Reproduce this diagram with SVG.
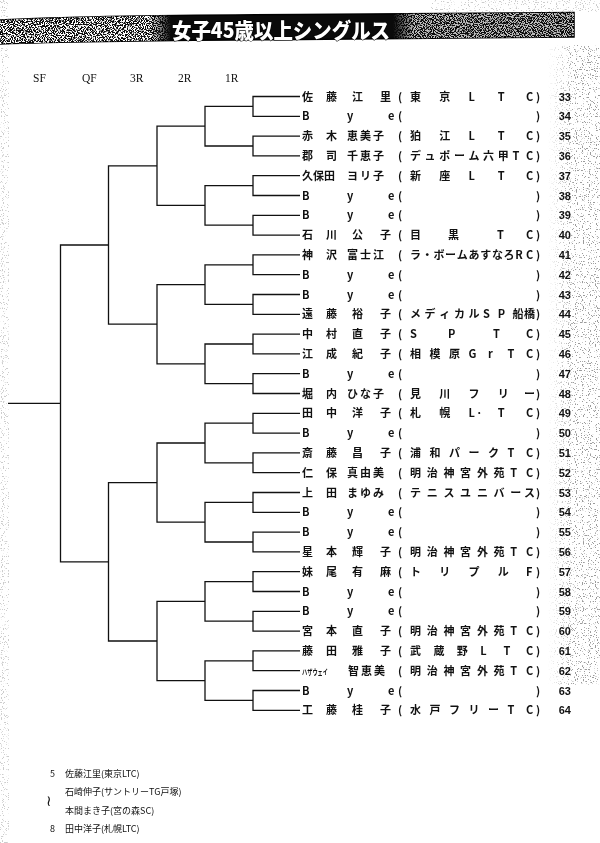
<svg xmlns="http://www.w3.org/2000/svg" width="600" height="843" viewBox="0 0 600 843">
<style>
text{font-family:"Noto Sans CJK JP","Noto Sans",sans-serif;fill:#111}
.nm,.cl{font-size:11px;font-weight:700}
.no{font-size:11px;font-weight:700;text-anchor:end;font-family:"Liberation Sans","Noto Sans CJK JP",sans-serif}
.hd{font-family:"Liberation Serif",serif;font-size:11.5px}
.nt{font-size:9px}
.br{fill:none;stroke:#111;stroke-width:1.3}
</style>
<defs>
<filter id="fW" x="0" y="0" width="1" height="1" color-interpolation-filters="sRGB">
<feTurbulence type="fractalNoise" baseFrequency="0.9" numOctaves="1" seed="7"/>
<feColorMatrix type="matrix" values="0 0 0 0 1 0 0 0 0 1 0 0 0 0 1 12 0 0 0 -5.6"/>
</filter>
<filter id="fD" x="0" y="0" width="1" height="1" color-interpolation-filters="sRGB">
<feTurbulence type="fractalNoise" baseFrequency="0.85" numOctaves="1" seed="3"/>
<feColorMatrix type="matrix" values="0 0 0 0 0.35 0 0 0 0 0.35 0 0 0 0 0.35 14 0 0 0 -8.4"/>
</filter>
<clipPath id="band"><path d="M0 20 C60 17 150 15 300 14.5 L574 12.5 L574 37 L300 39.5 C150 40.5 60 42 0 44 Z"/></clipPath>
<linearGradient id="gm" gradientUnits="userSpaceOnUse" x1="0" y1="0" x2="600" y2="0">
<stop offset="0" stop-color="#fff"/><stop offset="0.25" stop-color="#fff"/><stop offset="0.285" stop-color="#000"/><stop offset="0.655" stop-color="#000"/><stop offset="0.69" stop-color="#bbb"/><stop offset="1" stop-color="#bbb"/>
</linearGradient>
<mask id="mk" maskUnits="userSpaceOnUse" x="0" y="0" width="600" height="60"><rect x="0" y="0" width="600" height="60" fill="url(#gm)"/></mask>
<linearGradient id="gr" gradientUnits="userSpaceOnUse" x1="548" y1="0" x2="600" y2="0">
<stop offset="0" stop-color="#000"/><stop offset="0.5" stop-color="#fff"/><stop offset="1" stop-color="#fff"/>
</linearGradient>
<mask id="mr" maskUnits="userSpaceOnUse" x="548" y="0" width="52" height="843"><rect x="548" y="0" width="52" height="843" fill="url(#gr)"/></mask>
</defs>
<rect width="600" height="843" fill="#fff"/>
<g id="page-edges" opacity="0.6">
<g mask="url(#mr)"><rect x="548" y="45" width="52" height="640" filter="url(#fD)"/></g>
<rect x="430" y="0" width="170" height="12" filter="url(#fD)" opacity="0.5"/>
<rect x="0" y="0" width="9" height="843" filter="url(#fD)" opacity="0.5"/>
</g>
<g id="title">
<path d="M0 20 C60 17 150 15 300 14.5 L574 12.5 L574 37 L300 39.5 C150 40.5 60 42 0 44 Z" fill="#0a0a0a" stroke="#000" stroke-width="1.5"/>
<g clip-path="url(#band)"><g mask="url(#mk)"><rect x="0" y="8" width="600" height="40" filter="url(#fW)"/></g></g>
<text x="172" y="38" font-size="21" font-weight="900" textLength="218" lengthAdjust="spacingAndGlyphs" style="fill:#fff;stroke:#000;stroke-width:1;paint-order:stroke">女子45歳以上シングルス</text>
</g>
<g id="rounds">
<text class="hd" x="33" y="82">SF</text>
<text class="hd" x="82" y="82">QF</text>
<text class="hd" x="130" y="82">3R</text>
<text class="hd" x="178" y="82">2R</text>
<text class="hd" x="225" y="82">1R</text>
</g>
<g id="connectors">
<path class="br" d="M300 96.5H253V116.3H300M300 136.1H253V155.9H300M300 175.7H253V195.5H300M300 215.3H253V235.1H300M300 254.9H253V274.7H300M300 294.5H253V314.3H300M300 334.1H253V353.9H300M300 373.7H253V393.5H300M300 413.3H253V433.1H300M300 452.9H253V472.7H300M300 492.5H253V512.3H300M300 532.1H253V551.9H300M300 571.7H253V591.5H300M300 611.3H253V631.1H300M300 650.9H253V670.7H300M300 690.5H253V710.3H300"/>
<path class="br" d="M253 106.4H205V146H253M253 185.6H205V225.2H253M253 264.8H205V304.4H253M253 344H205V383.6H253M253 423.2H205V462.8H253M253 502.4H205V542H253M253 581.6H205V621.2H253M253 660.8H205V700.4H253"/>
<path class="br" d="M205 126.2H157V205.4H205M205 284.6H157V363.8H205M205 443H157V522.2H205M205 601.4H157V680.6H205"/>
<path class="br" d="M157 165.8H108.5V324.2H157M157 482.6H108.5V641H157"/>
<path class="br" d="M108.5 245H60.5V561.8H108.5M60.5 403.4H8"/>
</g>
<g id="e33"><text class="nm" x="302 326 352 380" y="100.5">佐藤江里</text><text class="cl" x="398 410 439.3 468.5 497.8 526 536" y="100.5">(東京LTC)</text><text class="no" x="571" y="100.5">33</text></g>
<g id="e34"><text class="nm" x="302 347 388" y="120.3">Bye</text><text class="cl" x="398 536" y="120.3">()</text><text class="no" x="571" y="120.3">34</text></g>
<g id="e35"><text class="nm" x="302 326 347 360 373" y="140.1">赤木恵美子</text><text class="cl" x="398 410 439.3 468.5 497.8 526 536" y="140.1">(狛江LTC)</text><text class="no" x="571" y="140.1">35</text></g>
<g id="e36"><text class="nm" x="302 326 347 360 373" y="159.9">郡司千恵子</text><text class="cl" x="398 410 424.6 439.3 453.9 468.5 483.1 497.8 512.4 526 536" y="159.9">(デュポーム六甲TC)</text><text class="no" x="571" y="159.9">36</text></g>
<g id="e37"><text class="nm" x="302 313 324 347 360 373" y="179.7">久保田ヨリ子</text><text class="cl" x="398 410 439.3 468.5 497.8 526 536" y="179.7">(新座LTC)</text><text class="no" x="571" y="179.7">37</text></g>
<g id="e38"><text class="nm" x="302 347 388" y="199.5">Bye</text><text class="cl" x="398 536" y="199.5">()</text><text class="no" x="571" y="199.5">38</text></g>
<g id="e39"><text class="nm" x="302 347 388" y="219.3">Bye</text><text class="cl" x="398 536" y="219.3">()</text><text class="no" x="571" y="219.3">39</text></g>
<g id="e40"><text class="nm" x="302 326 352 380" y="239.1">石川公子</text><text class="cl" x="398 410 448 497 526 536" y="239.1">(目黒TC)</text><text class="no" x="571" y="239.1">40</text></g>
<g id="e41"><text class="nm" x="302 326 347 360 373" y="258.9">神沢富士江</text><text class="cl" x="398 410 421.7 433.4 445.1 456.8 468.5 480.2 491.9 503.6 515.3 526 536" y="258.9">(ラ・ボームあすなろRC)</text><text class="no" x="571" y="258.9">41</text></g>
<g id="e42"><text class="nm" x="302 347 388" y="278.7">Bye</text><text class="cl" x="398 536" y="278.7">()</text><text class="no" x="571" y="278.7">42</text></g>
<g id="e43"><text class="nm" x="302 347 388" y="298.5">Bye</text><text class="cl" x="398 536" y="298.5">()</text><text class="no" x="571" y="298.5">43</text></g>
<g id="e44"><text class="nm" x="302 326 352 380" y="318.3">遠藤裕子</text><text class="cl" x="398 410 424.6 439.3 453.9 468.5 483.1 497.8 512.4 524 536" y="318.3">(メディカルSP船橋)</text><text class="no" x="571" y="318.3">44</text></g>
<g id="e45"><text class="nm" x="302 326 352 380" y="338.1">中村直子</text><text class="cl" x="398 410 448 493 526 536" y="338.1">(SPTC)</text><text class="no" x="571" y="338.1">45</text></g>
<g id="e46"><text class="nm" x="302 326 352 380" y="357.9">江成紀子</text><text class="cl" x="398 410 429.5 449 468.5 488 507.5 526 536" y="357.9">(相模原GrTC)</text><text class="no" x="571" y="357.9">46</text></g>
<g id="e47"><text class="nm" x="302 347 388" y="377.7">Bye</text><text class="cl" x="398 536" y="377.7">()</text><text class="no" x="571" y="377.7">47</text></g>
<g id="e48"><text class="nm" x="302 326 347 360 373" y="397.5">堀内ひな子</text><text class="cl" x="398 410 439.3 468.5 497.8 524 536" y="397.5">(見川フリー)</text><text class="no" x="571" y="397.5">48</text></g>
<g id="e49"><text class="nm" x="302 326 352 380" y="417.3">田中洋子</text><text class="cl" x="398 410 439.3 468.5 476 497.8 526 536" y="417.3">(札幌L·TC)</text><text class="no" x="571" y="417.3">49</text></g>
<g id="e50"><text class="nm" x="302 347 388" y="437.1">Bye</text><text class="cl" x="398 536" y="437.1">()</text><text class="no" x="571" y="437.1">50</text></g>
<g id="e51"><text class="nm" x="302 326 352 380" y="456.9">斎藤昌子</text><text class="cl" x="398 410 429.5 449 468.5 488 507.5 526 536" y="456.9">(浦和パークTC)</text><text class="no" x="571" y="456.9">51</text></g>
<g id="e52"><text class="nm" x="302 326 347 360 373" y="476.7">仁保真由美</text><text class="cl" x="398 410 426.7 443.4 460.1 476.9 493.6 510.3 526 536" y="476.7">(明治神宮外苑TC)</text><text class="no" x="571" y="476.7">52</text></g>
<g id="e53"><text class="nm" x="302 326 347 360 373" y="496.5">上田まゆみ</text><text class="cl" x="398 410 426.7 443.4 460.1 476.9 493.6 510.3 524 536" y="496.5">(テニスユニバース)</text><text class="no" x="571" y="496.5">53</text></g>
<g id="e54"><text class="nm" x="302 347 388" y="516.3">Bye</text><text class="cl" x="398 536" y="516.3">()</text><text class="no" x="571" y="516.3">54</text></g>
<g id="e55"><text class="nm" x="302 347 388" y="536.1">Bye</text><text class="cl" x="398 536" y="536.1">()</text><text class="no" x="571" y="536.1">55</text></g>
<g id="e56"><text class="nm" x="302 326 352 380" y="555.9">星本輝子</text><text class="cl" x="398 410 426.7 443.4 460.1 476.9 493.6 510.3 526 536" y="555.9">(明治神宮外苑TC)</text><text class="no" x="571" y="555.9">56</text></g>
<g id="e57"><text class="nm" x="302 326 352 380" y="575.7">妹尾有麻</text><text class="cl" x="398 410 439.3 468.5 497.8 526 536" y="575.7">(トリプルF)</text><text class="no" x="571" y="575.7">57</text></g>
<g id="e58"><text class="nm" x="302 347 388" y="595.5">Bye</text><text class="cl" x="398 536" y="595.5">()</text><text class="no" x="571" y="595.5">58</text></g>
<g id="e59"><text class="nm" x="302 347 388" y="615.3">Bye</text><text class="cl" x="398 536" y="615.3">()</text><text class="no" x="571" y="615.3">59</text></g>
<g id="e60"><text class="nm" x="302 326 352 380" y="635.1">宮本直子</text><text class="cl" x="398 410 426.7 443.4 460.1 476.9 493.6 510.3 526 536" y="635.1">(明治神宮外苑TC)</text><text class="no" x="571" y="635.1">60</text></g>
<g id="e61"><text class="nm" x="302 326 352 380" y="654.9">藤田雅子</text><text class="cl" x="398 410 433.4 456.8 480.2 503.6 526 536" y="654.9">(武蔵野LTC)</text><text class="no" x="571" y="654.9">61</text></g>
<g id="e62"><text class="nm" x="302" y="674.7" style="font-size:7.5px" textLength="26" lengthAdjust="spacingAndGlyphs">ハザウェイ</text><text class="nm" x="348 361 374" y="674.7">智恵美</text><text class="cl" x="398 410 426.7 443.4 460.1 476.9 493.6 510.3 526 536" y="674.7">(明治神宮外苑TC)</text><text class="no" x="571" y="674.7">62</text></g>
<g id="e63"><text class="nm" x="302 347 388" y="694.5">Bye</text><text class="cl" x="398 536" y="694.5">()</text><text class="no" x="571" y="694.5">63</text></g>
<g id="e64"><text class="nm" x="302 326 352 380" y="714.3">工藤桂子</text><text class="cl" x="398 410 429.5 449 468.5 488 507.5 526 536" y="714.3">(水戸フリーTC)</text><text class="no" x="571" y="714.3">64</text></g>
<g id="notes">
<text class="nt" x="50" y="777">5</text><text class="nt" x="65" y="777">佐藤江里(東京LTC)</text>
<text class="nt" x="65" y="795">石崎伸子(サントリーTG戸塚)</text>
<text x="46" y="806" style="font-size:15px;font-family:'DejaVu Sans',sans-serif">≀</text>
<text class="nt" x="65" y="814">本間まき子(宮の森SC)</text>
<text class="nt" x="50" y="832">8</text><text class="nt" x="65" y="832">田中洋子(札幌LTC)</text>
</g>
</svg>
